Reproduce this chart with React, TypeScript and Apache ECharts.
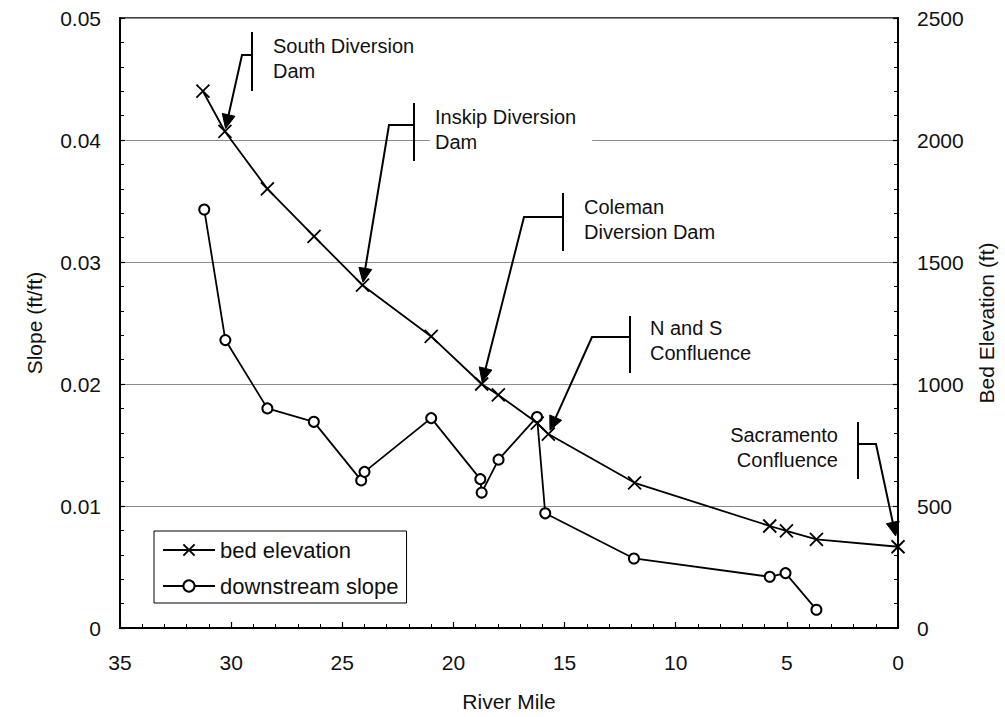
import React, { useEffect, useRef } from 'react';
import * as echarts from 'echarts';

const FONT = '"Liberation Sans", Arial, Helvetica, sans-serif';

// ---- data ----
const bedMiles = [31.27, 30.28, 28.37, 26.27, 24.09, 21.0, 18.73, 17.98, 16.23, 15.73, 11.85, 5.77, 5.02, 3.67, 0];
const bedElevation = [2200, 2035, 1800, 1605, 1405, 1195, 1000, 955, 840, 795, 595, 418, 398, 363, 333];

const slopeMiles = [31.21, 30.26, 28.37, 26.28, 24.15, 24.0, 21.0, 18.79, 18.73, 17.97, 16.24, 15.87, 11.88, 5.77, 5.06, 3.67];
const slopeValues = [0.0343, 0.0236, 0.018, 0.0169, 0.0121, 0.0128, 0.0172, 0.0122, 0.0111, 0.0138, 0.0173, 0.0094, 0.0057, 0.0042, 0.0045, 0.0015];

const seriesNames = ['bed elevation', 'downstream slope'];
const xAxisName = 'River Mile';
const leftAxisName = 'Slope (ft/ft)';
const rightAxisName = 'Bed Elevation (ft)';

// annotation labels and the bed-elevation point each arrow points at
const annotationLabels = [
  'South Diversion\nDam',
  'Inskip Diversion\nDam',
  'Coleman\nDiversion Dam',
  'N and S\nConfluence',
  'Sacramento\nConfluence',
];
const annotationTargets = [1, 4, 6, 9, 14];

// callout layout (pixels)
const callouts = [
  { barX: 252, barTop: 32, barBottom: 91, elbowX: 242, elbowY: 55, textX: 273, textY: 33, align: 'left', gap: 3, bg: false },
  { barX: 414, barTop: 103, barBottom: 161, elbowX: 389, elbowY: 125, textX: 430, textY: 102, align: 'left', gap: 3, bg: true },
  { barX: 563, barTop: 193, barBottom: 251, elbowX: 524, elbowY: 217, textX: 584, textY: 194, align: 'left', gap: 2, bg: false },
  { barX: 630, barTop: 316, barBottom: 373, elbowX: 592, elbowY: 337, textX: 650, textY: 315, align: 'left', gap: 4, bg: false },
  { barX: 858, barTop: 422, barBottom: 479, elbowX: 876, elbowY: 444, textX: 838, textY: 422, align: 'right', gap: 11, bg: false },
];

const axisCommon = {
  nameLocation: 'middle',
  nameTextStyle: { fontSize: 21, color: '#111', fontFamily: FONT },
  axisLine: { show: true, onZero: false, lineStyle: { color: '#000', width: 2 } },
  axisTick: { show: true, inside: true, length: 6, lineStyle: { color: '#000', width: 1.2 } },
  minorTick: { show: true, splitNumber: 5, length: 4, lineStyle: { color: '#000', width: 1 } },
  axisLabel: { fontSize: 21, color: '#111', fontFamily: FONT },
};

export default function App() {
  const ref = useRef<HTMLDivElement>(null);

  useEffect(() => {
    if (!ref.current) return;
    const chart = echarts.init(ref.current, null, { renderer: 'svg' });
    const option: any = {
      animation: false,
      backgroundColor: '#fff',
      textStyle: { fontFamily: FONT },
      grid: {
        left: 120,
        right: 102,
        top: 18,
        bottom: 88,
        show: true,
        borderColor: '#000',
        borderWidth: 1.5,
        backgroundColor: 'transparent',
      },
      legend: {
        left: 154,
        top: 531,
        orient: 'vertical',
        padding: [8, 8, 6, 8],
        itemGap: 14,
        itemWidth: 52,
        itemHeight: 14,
        backgroundColor: '#fff',
        borderColor: '#000',
        borderWidth: 1,
        data: seriesNames,
        textStyle: { fontSize: 22, color: '#111', fontFamily: FONT, lineHeight: 22 },
      },
      xAxis: {
        ...axisCommon,
        type: 'value',
        min: 0,
        max: 35,
        interval: 5,
        inverse: true,
        name: xAxisName,
        nameGap: 63,
        axisLabel: { ...axisCommon.axisLabel, margin: 24 },
        splitLine: { show: false },
      },
      yAxis: [
        {
          ...axisCommon,
          type: 'value',
          position: 'left',
          min: 0,
          max: 0.05,
          interval: 0.01,
          name: leftAxisName,
          nameGap: 75,
          axisTick: { ...axisCommon.axisTick, length: 5 },
          axisLabel: {
            ...axisCommon.axisLabel,
            margin: 19,
            formatter: (v: number) => (v === 0 ? '0' : v.toFixed(2)),
          },
          splitLine: { show: true, lineStyle: { color: '#8c8c8c', width: 1 } },
        },
        {
          ...axisCommon,
          type: 'value',
          position: 'right',
          min: 0,
          max: 2500,
          interval: 500,
          name: rightAxisName,
          nameGap: 78,
          axisTick: { ...axisCommon.axisTick, length: 5 },
          axisLabel: { ...axisCommon.axisLabel, margin: 19, formatter: (v: number) => String(v) },
          splitLine: { show: false },
        },
      ],
      series: [
        {
          name: seriesNames[0],
          type: 'line',
          yAxisIndex: 1,
          data: bedMiles.map((m, i) => [m, bedElevation[i]]),
          symbol: 'path://M0,0L10,10M10,0L0,10',
          symbolSize: 13,
          lineStyle: { color: '#000', width: 1.8 },
          itemStyle: { color: '#000', borderColor: '#000', borderWidth: 1.8 },
          z: 3,
        },
        {
          name: seriesNames[1],
          type: 'line',
          yAxisIndex: 0,
          data: slopeMiles.map((m, i) => [m, slopeValues[i]]),
          symbol: 'emptyCircle',
          symbolSize: 10,
          lineStyle: { color: '#000', width: 1.8 },
          itemStyle: { color: '#000', borderColor: '#000', borderWidth: 1.5 },
          z: 2,
        },
      ],
    };
    chart.setOption(option);

    const g: any[] = [];
    callouts.forEach((c, i) => {
      const idx = annotationTargets[i];
      const p = chart.convertToPixel({ seriesIndex: 0 }, [bedMiles[idx], bedElevation[idx]]) as number[];
      const px = p[0];
      const py = p[1];
      const dx = px - c.elbowX;
      const dy = py - c.elbowY;
      const len = Math.hypot(dx, dy) || 1;
      const ux = dx / len;
      const uy = dy / len;
      const tx = px - ux * c.gap;
      const ty = py - uy * c.gap;
      const L = 14;
      const W = 6.5;
      const bx = tx - ux * L;
      const by = ty - uy * L;
      const nx = -uy;
      const ny = ux;
      g.push({
        type: 'line',
        z: 100,
        shape: { x1: c.barX, y1: c.barTop, x2: c.barX, y2: c.barBottom },
        style: { stroke: '#000', lineWidth: 2 },
      });
      g.push({
        type: 'polyline',
        z: 100,
        shape: { points: [[c.barX, c.elbowY], [c.elbowX, c.elbowY], [bx + ux * 2, by + uy * 2]] },
        style: { stroke: '#000', lineWidth: 2, fill: null },
      });
      g.push({
        type: 'polygon',
        z: 101,
        shape: { points: [[tx, ty], [bx + nx * W, by + ny * W], [bx - nx * W, by - ny * W]] },
        style: { fill: '#000', stroke: '#000', lineWidth: 1 },
      });
      const textStyle: any = {
        text: annotationLabels[i],
        font: `20px ${FONT}`,
        fill: '#111',
        align: c.align,
        verticalAlign: 'top',
        textAlign: c.align,
        textVerticalAlign: 'top',
        lineHeight: 25,
      };
      if (c.bg) {
        textStyle.backgroundColor = '#fff';
        textStyle.padding = [2, 16, 2, 5];
      }
      g.push({ type: 'text', z: 99, x: c.textX, y: c.textY, style: textStyle });
    });
    chart.setOption({ graphic: g });

    return () => chart.dispose();
  }, []);

  return (
    <div
      ref={ref}
      style={{ position: 'fixed', left: 0, top: 0, width: 1005, height: 717, background: '#fff' }}
    />
  );
}
